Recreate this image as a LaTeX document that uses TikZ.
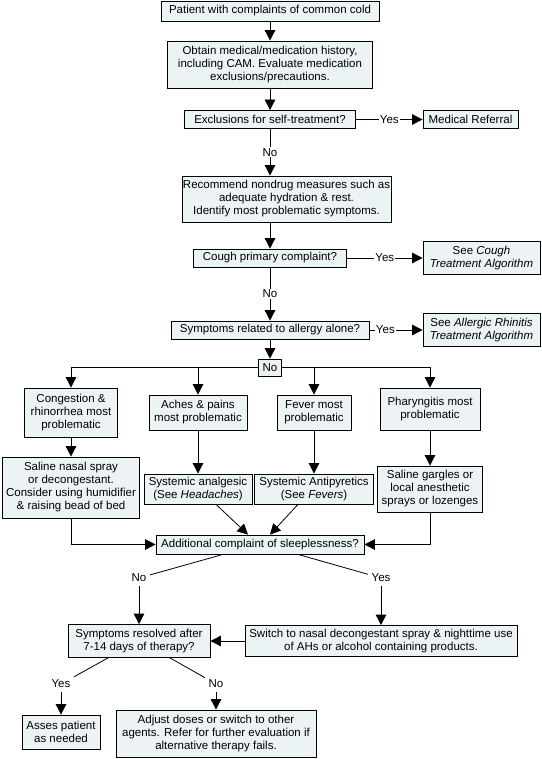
\documentclass[tikz,border=0pt]{standalone}
\usepackage{fontspec}
\setmainfont{Liberation Sans}
\usetikzlibrary{arrows.meta}
\definecolor{boxfill}{RGB}{236,243,245}
\begin{document}
\begin{tikzpicture}[
  x=1pt, y=-1pt,
  line width=0.8pt,
  every node/.style={font=\fontsize{11.5}{13}\selectfont},
  box/.style={draw, fill=boxfill, align=center, inner sep=1pt},
  lbl/.style={fill=white, inner sep=1pt},
  arr/.style={-{Triangle[width=10.5pt,length=10.5pt]}}
]
  \useasboundingbox (0,0) rectangle (541,759);
  \node[box, minimum width=218, minimum height=20] (start) at (270,11) {Patient with complaints of common cold};
  \node[box, minimum width=205, minimum height=47] (hist) at (270,64.5) {Obtain medical/medication history,\\including CAM. Evaluate medication\\exclusions/precautions.};
  \node[box, minimum width=171, minimum height=18] (excl) at (270,119.5) {Exclusions for self-treatment?};
  \node[box, minimum width=95, minimum height=18] (referral) at (470.5,119.5) {Medical Referral};
  \node[box, minimum width=207, minimum height=46] (nondrug) at (286.5,199) {Recommend nondrug measures such as\\adequate hydration \& rest.\\Identify most problematic symptoms.};
  \node[box, minimum width=153, minimum height=18] (cough) at (270,258) {Cough primary complaint?};
  \node[box, minimum width=117, minimum height=33] (seecough) at (481.5,258) {See \textit{Cough}\\\textit{Treatment Algorithm}};
  \node[box, minimum width=198, minimum height=18] (allergy) at (270,330) {Symptoms related to allergy alone?};
  \node[box, minimum width=117, minimum height=33] (seeallergy) at (481.5,330) {See \textit{Allergic Rhinitis}\\\textit{Treatment Algorithm}};
  \node[box, minimum width=23, minimum height=17] (nobox) at (270,367.5) {No};
  \node[box, minimum width=93, minimum height=49] (congestion) at (71,412.5) {Congestion \&\\rhinorrhea most\\problematic};
  \node[box, minimum width=98, minimum height=35] (aches) at (198,412.5) {Aches \& pains\\most problematic};
  \node[box, minimum width=74, minimum height=35] (fever) at (314,412.5) {Fever most\\problematic};
  \node[box, minimum width=100, minimum height=42] (pharyngitis) at (430,409) {Pharyngitis most\\problematic};
  \node[box, minimum width=137, minimum height=61] (saline) at (71,487.5) {Saline nasal spray\\or decongestant.\\Consider using humidifier\\\& raising bead of bed};
  \node[box, minimum width=108, minimum height=30] (analgesic) at (198,489) {Systemic analgesic\\(See \textit{Headaches})};
  \node[box, minimum width=119, minimum height=30] (antipyretic) at (314,489) {Systemic Antipyretics\\(See \textit{Fevers})};
  \node[box, minimum width=105, minimum height=46] (gargles) at (430,489) {Saline gargles or\\local anesthetic\\sprays or lozenges};
  \node[box, minimum width=208, minimum height=19] (sleep) at (260,544.5) {Additional complaint of sleeplessness?};
  \node[box, minimum width=142, minimum height=33] (resolved) at (139,641) {Symptoms resolved after\\7-14 days of therapy?};
  \node[box, minimum width=272, minimum height=31] (switch) at (381,641) {Switch to nasal decongestant spray \& nighttime use\\of AHs or alcohol containing products.};
  \node[box, minimum width=78, minimum height=34] (asses) at (61,732) {Asses patient\\as needed};
  \node[box, minimum width=200, minimum height=47] (adjust) at (216,733.5) {Adjust doses or switch to other\\agents. Refer for further evaluation if\\alternative therapy fails.};
  \node (nosleep) at (139,578) {No};
  \node (yessleep) at (381,578) {Yes};
  \node (yesres) at (61,684) {Yes};
  \node (nores) at (216,684) {No};

  \draw[arr] (start) -- (hist);
  \draw[arr] (hist) -- (excl);
  \draw[arr] (excl) -- node[lbl] {Yes} (referral);
  \draw[arr] (excl) -- node[lbl] {No} (excl |- nondrug.north);
  \draw[arr] (nondrug.south -| cough) -- (cough);
  \draw[arr] (cough) -- node[lbl] {Yes} (seecough);
  \draw[arr] (cough) -- node[lbl] {No} (allergy);
  \draw[arr] (allergy) -- node[lbl, pos=0.3] {Yes} (seeallergy);
  \draw[arr] (allergy) -- (nobox);
  \draw[arr] (nobox) -| (congestion);
  \draw[arr] (nobox) -| (aches);
  \draw[arr] (nobox) -| (fever);
  \draw[arr] (nobox) -| (pharyngitis);
  \draw[arr] (congestion) -- (saline);
  \draw[arr] (aches) -- (analgesic);
  \draw[arr] (fever) -- (antipyretic);
  \draw[arr] (pharyngitis) -- (gargles);
  \draw[arr] (saline) |- (sleep);
  \draw[arr] (gargles) |- (sleep);
  \draw[arr] ([xshift=18pt]analgesic.south) -- ([xshift=-12pt]sleep.north);
  \draw[arr] ([xshift=-16pt]antipyretic.south) -- ([xshift=10pt]sleep.north);
  \draw ([xshift=-37pt]sleep.south) -- (nosleep);
  \draw[arr] (nosleep) -- (resolved);
  \draw ([xshift=38pt]sleep.south) -- (yessleep);
  \draw[arr] (yessleep) -- (switch);
  \draw[arr] (switch) -- (resolved);
  \draw ([xshift=-31pt]resolved.south) -- (yesres);
  \draw[arr] (yesres) -- (asses);
  \draw ([xshift=31pt]resolved.south) -- (nores);
  \draw[arr] (nores) -- (adjust);
\end{tikzpicture}
\end{document}
